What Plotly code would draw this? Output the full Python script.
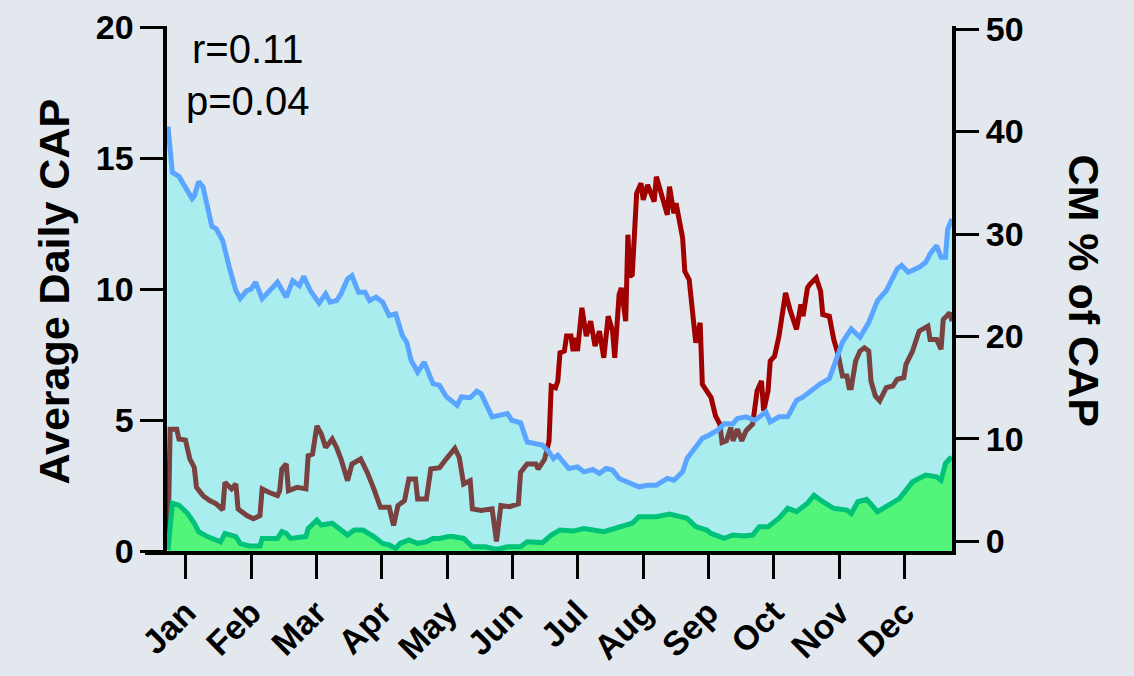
import plotly.graph_objects as go

# Day-of-year positions (7-day smoothed series start on day 7)
cap_days = [7, 9, 12, 14, 16, 18, 19, 21, 23, 25, 27, 29, 32, 35, 38, 40, 43, 45, 47, 50,
            53, 57, 61, 64, 67, 69, 72, 76, 79, 81, 84, 86, 89, 91, 94, 97, 99, 102, 105, 108,
            111, 114, 116, 118, 121, 124, 128, 131, 134, 139, 141, 145, 148, 150, 155, 159, 162, 164, 168, 171,
            175, 178, 181, 183, 185, 190, 194, 197, 201, 204, 207, 210, 213, 218, 222, 226, 230, 235, 238, 242,
            244, 248, 251, 254, 258, 261, 265, 267, 271, 275, 280, 282, 286, 290, 294, 297, 301, 305, 309, 312,
            315, 319, 323, 327, 331, 335, 340, 342, 345, 350, 353, 355, 358, 360, 362, 363, 365]
# Average daily CAP (left axis)
cap_values = [16.2, 14.45, 14.3, 14.0, 13.75, 13.45, 13.55, 14.1, 13.9, 13.1, 12.4, 12.3, 11.85, 10.83, 9.94, 9.64, 9.94, 10.0, 10.26, 9.63,
              9.88, 10.26, 9.69, 10.32, 10.13, 10.48, 9.94, 9.46, 9.82, 9.5, 9.56, 9.82, 10.39, 10.51, 9.88, 9.88, 9.56, 9.69, 9.5, 8.99,
              9.05, 8.23, 7.97, 7.28, 6.83, 7.21, 6.39, 6.32, 5.9, 5.56, 5.88, 5.85, 6.1, 6.0, 5.12, 5.18, 5.25, 4.99, 4.89, 4.16,
              4.1, 4.04, 3.78, 3.53, 3.66, 3.15, 3.21, 3.02, 3.11, 2.96, 3.15, 3.09, 2.77, 2.58, 2.45, 2.51, 2.51, 2.77, 2.7, 3.02,
              3.53, 3.97, 4.3, 4.42, 4.61, 4.86, 4.86, 5.06, 5.12, 4.99, 5.31, 4.93, 5.12, 5.12, 5.75, 5.88, 6.13, 6.39, 6.58, 7.28,
              7.97, 8.48, 8.16, 8.73, 9.56, 9.94, 10.77, 10.9, 10.64, 10.83, 11.02, 11.34, 11.66, 11.21, 11.21, 12.29, 12.67]

cm_days = [7, 9, 12, 14, 16, 19, 21, 25, 29, 31, 33, 38, 40, 44, 49, 50, 57, 59, 61, 63,
           70, 71, 75, 77, 82, 86, 89, 92, 96, 101, 105, 108, 111, 113, 117, 121, 125, 128, 131, 135,
           137, 142, 146, 152, 157, 162, 168, 171, 178, 182, 186, 192, 197, 206, 215, 219, 222, 230, 236, 244,
           248, 253, 255, 261, 265, 270, 274, 277, 281, 286, 290, 294, 299, 302, 306, 311, 317, 319, 322, 326,
           331, 337, 341, 347, 353, 358, 360, 362, 364, 365]
# Average daily CM cases (left axis)
cm_values = [0.04, 1.82, 1.75, 1.56, 1.43, 1.06, 0.74, 0.55, 0.42, 0.35, 0.67, 0.55, 0.29, 0.19, 0.19, 0.48, 0.48, 0.74, 0.67, 0.48,
             0.55, 0.86, 1.18, 0.99, 1.06, 0.8, 0.61, 0.8, 0.8, 0.55, 0.29, 0.23, 0.1, 0.29, 0.42, 0.29, 0.35, 0.48, 0.48, 0.55,
             0.55, 0.48, 0.16, 0.16, 0.06, 0.16, 0.16, 0.35, 0.32, 0.61, 0.8, 0.76, 0.86, 0.74, 0.93, 1.06, 1.31, 1.31, 1.41, 1.25,
             0.93, 0.8, 0.67, 0.48, 0.61, 0.57, 0.61, 0.93, 0.93, 1.25, 1.63, 1.5, 1.82, 2.13, 1.88, 1.63, 1.56, 1.43, 1.88, 1.97,
             1.5, 1.82, 2.0, 2.64, 2.9, 2.83, 2.7, 3.34, 3.53, 3.55]

pct_days = [7, 8, 11, 12, 15, 17, 19, 20, 23, 26, 29, 32, 33, 36, 38, 39, 43, 46, 49, 50,
            53, 57, 58, 59, 61, 62, 66, 70, 71, 73, 75, 77, 79, 82, 84, 86, 89, 91, 95, 98,
            101, 104, 108, 110, 112, 115, 117, 120, 121, 125, 127, 131, 134, 138, 140, 142, 145, 146, 150, 155,
            157, 159, 163, 167, 168, 171, 175, 176, 179, 181, 182, 184, 185, 186, 188, 189, 191, 192, 193, 194,
            196, 198, 200, 202, 204, 206, 208, 210, 211, 213, 214, 216, 217, 218, 219, 221, 223, 224, 226, 229,
            230, 232, 235, 236, 238, 239, 242, 243, 245, 248, 250, 251, 255, 257, 259, 260, 262, 264, 265, 267,
            269, 271, 274, 276, 278, 279, 281, 282, 284, 286, 289, 291, 294, 296, 297, 299, 300, 303, 305, 306,
            309, 311, 313, 315, 317, 318, 319, 321, 323, 325, 327, 328, 330, 332, 335, 338, 340, 343, 344, 347,
            350, 354, 355, 358, 360, 361, 364, 365]
# CM as a percentage of CAP (right axis)
pct_values = [0.0, 10.96, 10.96, 9.99, 9.89, 8.04, 7.23, 5.28, 4.47, 3.99, 3.67, 3.08, 5.77, 5.13, 5.61, 3.18, 2.53, 2.21, 2.53, 5.13,
              4.8, 4.47, 4.96, 7.07, 7.56, 4.96, 5.28, 5.13, 8.37, 8.53, 11.28, 10.48, 9.17, 9.99, 9.17, 8.04, 5.93, 7.56, 8.04, 6.74,
              5.13, 3.34, 3.34, 1.56, 3.5, 3.99, 6.1, 6.1, 4.15, 4.15, 7.07, 7.2, 8.04, 9.08, 8.2, 5.61, 5.93, 3.18, 3.02, 3.18,
              0.0, 3.5, 3.4, 3.67, 6.74, 7.56, 7.56, 7.07, 8.04, 9.82, 15.17, 15.0, 15.66, 18.41, 18.58, 20.04, 20.04, 18.58, 19.87, 18.58,
              22.8, 20.04, 21.5, 19.07, 20.53, 17.93, 21.98, 20.53, 17.93, 24.1, 24.74, 21.5, 29.93, 25.88, 26.04, 33.98, 34.95, 33.34, 34.8, 33.17,
              35.6, 33.98, 31.88, 34.63, 32.03, 33.0, 29.6, 26.36, 25.55, 19.39, 21.33, 15.34, 14.04, 12.26, 11.45, 9.66, 9.82, 11.12, 9.82, 10.96,
              9.82, 10.8, 11.45, 14.69, 15.66, 12.74, 14.69, 17.61, 18.09, 20.04, 24.25, 22.64, 20.69, 23.12, 21.98, 24.74, 25.07, 25.71, 24.42, 22.15,
              21.98, 19.72, 18.26, 16.15, 16.15, 15.01, 15.01, 17.61, 18.58, 18.9, 18.58, 15.66, 14.2, 13.72, 15.01, 15.17, 15.83, 15.98, 17.29, 18.58,
              20.53, 21.01, 19.72, 19.72, 18.75, 21.66, 22.31, 21.5]

months = ["Jan", "Feb", "Mar", "Apr", "May", "Jun", "Jul", "Aug", "Sep", "Oct", "Nov", "Dec"]
month_ticks = [15.2 + 29.82 * i for i in range(len(months))]

stats_text = "r=0.11<br>p=0.04"

FONT = "Liberation Sans, Arial, sans-serif"
BG = "#E2E8ED"

fig = go.Figure()

# CM % line on the base (right) axis so the translucent CAP area sits above it
fig.add_trace(go.Scatter(
    x=pct_days, y=pct_values, mode="lines", yaxis="y",
    line=dict(color="#A00000", width=5), showlegend=False,
))
# Average daily CAP with translucent cyan area
fig.add_trace(go.Scatter(
    x=cap_days, y=cap_values, mode="lines", yaxis="y2", fill="tozeroy",
    fillcolor="rgba(10,250,245,0.26)",
    line=dict(color="#5AA5FF", width=5), showlegend=False,
))
# Average daily CM with green area
fig.add_trace(go.Scatter(
    x=cm_days, y=cm_values, mode="lines", yaxis="y2", fill="tozeroy",
    fillcolor="#52F47A",
    line=dict(color="#00C278", width=5), showlegend=False,
))

tick_font = dict(family=FONT, size=34, color="black", weight="bold")

fig.update_layout(
    width=1134, height=676,
    margin=dict(l=145, r=182, t=26, b=125, autoexpand=False),
    paper_bgcolor=BG, plot_bgcolor=BG,
    template="none",
    showlegend=False,
    xaxis=dict(
        range=[-3.5, 365], tickvals=month_ticks, ticktext=months,
        tickangle=-45, ticks="outside", ticklen=24, tickwidth=3, tickcolor="black",
        showline=True, linewidth=4, linecolor="black",
        showgrid=False, zeroline=False, automargin=False,
        tickfont=dict(family=FONT, size=34, color="black", weight="bold"),
    ),
    yaxis=dict(
        side="right", anchor="x", range=[-0.93, 50.3],
        tickvals=[0, 10, 20, 30, 40, 50],
        ticks="outside", ticklen=23, tickwidth=3, tickcolor="black",
        showline=True, linewidth=4, linecolor="black",
        showgrid=False, zeroline=False, automargin=False,
        tickfont=tick_font,
    ),
    yaxis2=dict(
        overlaying="y", side="left", anchor="free", position=0.0254,
        range=[0, 20.04], tickvals=[0, 5, 10, 15, 20],
        ticks="outside", ticklen=23, tickwidth=3, tickcolor="black",
        showline=True, linewidth=4, linecolor="black",
        showgrid=False, zeroline=False, automargin=False,
        tickfont=tick_font,
    ),
    annotations=[
        dict(text="Average Daily CAP", xref="paper", yref="paper", x=-0.113, y=0.494,
             xanchor="center", yanchor="middle", textangle=-90, showarrow=False,
             font=dict(family=FONT, size=43, color="black", weight="bold")),
        dict(text="CM % of CAP", xref="paper", yref="paper", x=1.163, y=0.497,
             xanchor="center", yanchor="middle", textangle=90, showarrow=False,
             font=dict(family=FONT, size=43, color="black", weight="bold")),
        dict(text=stats_text, xref="paper", yref="paper", x=0.1276, y=0.907,
             xanchor="center", yanchor="middle", align="center", showarrow=False,
             font=dict(family=FONT, size=40, color="black")),
    ],
)

fig.write_html("out.html")
